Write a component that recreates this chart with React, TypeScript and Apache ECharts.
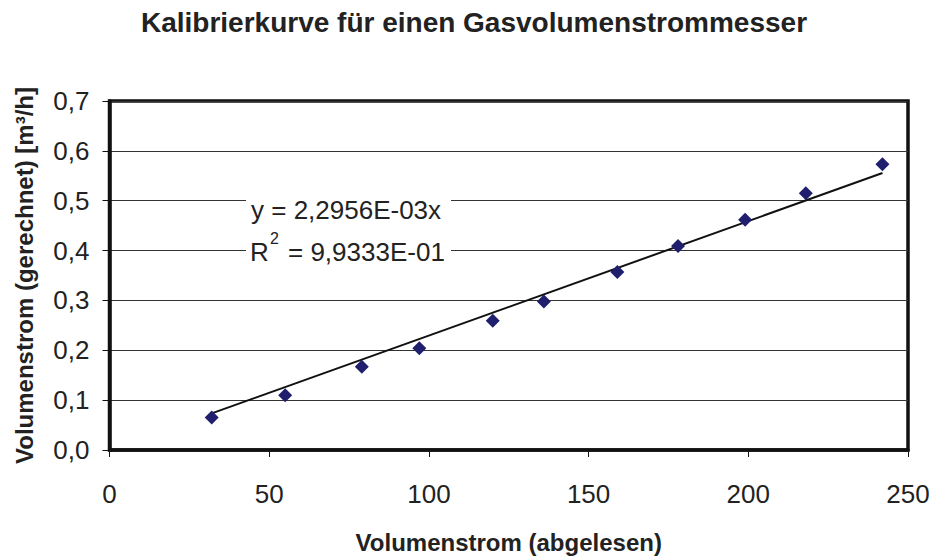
import React, { useEffect, useRef } from "react";
import * as echarts from "echarts";

const xValues = [32, 55, 79, 97, 120, 136, 159, 178, 199, 218, 242];
const yValues = [0.065, 0.11, 0.167, 0.204, 0.259, 0.298, 0.357, 0.409, 0.462, 0.515, 0.573];
const slope = 0.0022956;
const equationText = "y = 2,2956E-03x";
const r2Text = "= 9,9333E-01";
const xTicks = [0, 50, 100, 150, 200, 250];
const yTicks = [0, 0.1, 0.2, 0.3, 0.4, 0.5, 0.6, 0.7];

const FONT = "Liberation Sans, Arial, sans-serif";

export default function App() {
  const ref = useRef<HTMLDivElement>(null);
  useEffect(() => {
    document.body.style.margin = "0";
    if (!ref.current) return;
    const chart = echarts.init(ref.current, undefined, { renderer: "svg" });
    const points = xValues.map((x, i) => [x, yValues[i]]);
    const xMin = Math.min(...xValues);
    const xMax = Math.max(...xValues);
    const trend = [
      [xMin, slope * xMin],
      [xMax, slope * xMax],
    ];
    chart.setOption({
      animation: false,
      backgroundColor: "#fff",
      title: {
        text: "Kalibrierkurve für einen Gasvolumenstrommesser",
        left: 469,
        textAlign: "center",
        top: 3,
        textStyle: { fontFamily: FONT, fontSize: 28, fontWeight: "bold", color: "#222" },
      },
      grid: {
        left: 109.5,
        right: 25,
        top: 101,
        bottom: 109,
        show: true,
        borderColor: "#111",
        borderWidth: 3.5,
        backgroundColor: "#fff",
      },
      xAxis: {
        type: "value",
        min: xTicks[0],
        max: xTicks[xTicks.length - 1],
        interval: 50,
        name: "Volumenstrom (abgelesen)",
        nameLocation: "middle",
        nameGap: 80,
        nameTextStyle: { fontFamily: FONT, fontSize: 24, fontWeight: "bold", color: "#222" },
        axisLine: { show: true, onZero: false, lineStyle: { color: "#111", width: 3.5 } },
        axisTick: { show: true, inside: false, length: 7, lineStyle: { color: "#111", width: 1 } },
        axisLabel: { margin: 31, fontFamily: FONT, fontSize: 26, color: "#222" },
        splitLine: { show: false },
      },
      yAxis: {
        type: "value",
        min: yTicks[0],
        max: yTicks[yTicks.length - 1],
        interval: 0.1,
        name: "Volumenstrom (gerechnet) [m³/h]",
        nameLocation: "middle",
        nameRotate: 90,
        nameGap: 73,
        nameTextStyle: { fontFamily: FONT, fontSize: 24, fontWeight: "bold", color: "#222" },
        axisLine: { show: true, onZero: false, lineStyle: { color: "#111", width: 3.5 } },
        axisTick: { show: true, inside: false, length: 7, lineStyle: { color: "#111", width: 1 } },
        axisLabel: {
          margin: 20,
          fontFamily: FONT,
          fontSize: 26,
          color: "#222",
          formatter: (v: number) => v.toFixed(1).replace(".", ","),
        },
        splitLine: { show: true, lineStyle: { color: "#333", width: 1 } },
      },
      series: [
        {
          type: "line",
          data: trend,
          showSymbol: false,
          symbol: "none",
          lineStyle: { color: "#111", width: 2 },
          z: 3,
        },
        {
          type: "scatter",
          data: points,
          symbol: "diamond",
          symbolSize: 14,
          itemStyle: { color: "#1F1F6E", opacity: 1 },
          z: 4,
        },
      ],
      graphic: [
        {
          type: "rect",
          shape: { x: 246, y: 189, width: 205, height: 76 },
          style: { fill: "#fff" },
          z: 10,
        },
        {
          type: "text",
          x: 251,
          y: 210,
          style: {
            text: equationText,
            font: `26px ${FONT}`,
            fill: "#222",
            verticalAlign: "middle",
          },
          z: 11,
        },
        {
          type: "text",
          x: 250,
          y: 252,
          style: { text: "R", font: `26px ${FONT}`, fill: "#222", verticalAlign: "middle" },
          z: 11,
        },
        {
          type: "text",
          x: 270,
          y: 238,
          style: { text: "2", font: `16px ${FONT}`, fill: "#222", verticalAlign: "middle" },
          z: 11,
        },
        {
          type: "text",
          x: 288,
          y: 252,
          style: { text: r2Text, font: `26px ${FONT}`, fill: "#222", verticalAlign: "middle" },
          z: 11,
        },
      ],
    });
    return () => chart.dispose();
  }, []);
  return <div ref={ref} style={{ width: 933, height: 559 }} />;
}
